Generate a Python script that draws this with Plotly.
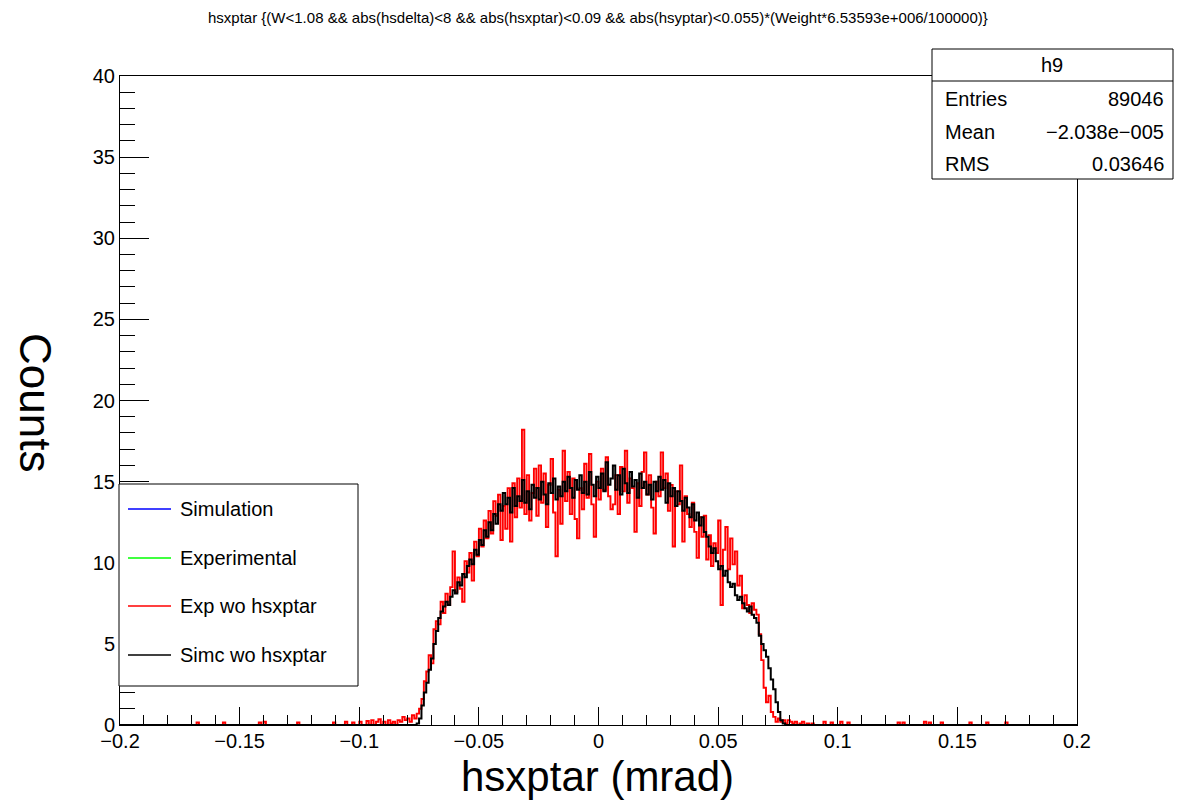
import numpy as np
import plotly.graph_objects as go

# ---------------- data ----------------
BIN_WIDTH = 0.001
X_MIN, X_MAX = -0.2, 0.2
CORE_START = -0.090  # lower edge of first bin in the core lists

# simulation (black) counts per 0.001 bin, lower edges from -0.090
simc_core = [
    0, 0, 0, 0, 0, 0, 0, 0, 0, 0,                      # -0.090 .. -0.081
    0, 0, 0, 0, 0.1, 0.4, 1.2, 2.0, 2.6, 3.4,          # -0.080 .. -0.071
    4.1, 5.0, 5.8, 6.6, 7.0, 7.3, 7.6, 7.4, 7.9, 8.3,  # -0.070 .. -0.061
    8.1, 8.8, 8.6, 9.3, 9.1, 9.8, 10.2, 9.9, 10.8, 10.5,  # -0.060 .. -0.051
    11.4, 11.1, 12.0, 11.6, 12.5, 12.0, 13.0, 12.4, 13.6, 13.2,  # -0.050 .. -0.041
    14.3, 13.6, 14.0, 13.1, 14.6, 13.5, 14.1, 13.8, 15.1, 13.7,  # -0.040 .. -0.031
    14.4, 13.3, 14.8, 14.0, 14.6, 13.9, 15.0, 14.2, 13.6, 14.9,  # -0.030 .. -0.021
    14.3, 15.2, 13.9, 14.7, 14.1, 15.0, 14.4, 15.3, 14.6, 14.0,  # -0.020 .. -0.011
    15.1, 14.5, 15.4, 14.3, 15.0, 14.2, 15.6, 14.8, 14.1, 15.3,  # -0.010 .. -0.001
    14.6, 15.5, 14.4, 16.2, 14.8, 15.2, 16.0, 14.5, 15.4, 14.2,  # 0.000 .. 0.009
    15.8, 14.9, 14.3, 15.6, 14.7, 15.1, 14.0, 15.5, 14.6, 15.0,  # 0.010 .. 0.019
    14.2, 14.8, 13.9, 15.0, 14.4, 15.3, 14.5, 15.1, 13.7, 14.9,  # 0.020 .. 0.029
    14.1, 14.6, 13.5, 14.4, 13.8, 13.2, 14.0, 13.4, 12.8, 13.6,  # 0.030 .. 0.039
    12.6, 13.1, 12.3, 12.8, 11.9, 11.6, 11.0, 10.6, 10.9, 10.1,  # 0.040 .. 0.049
    9.6, 9.8, 9.2, 9.5, 8.8, 8.5, 8.7, 8.0, 7.7, 7.9,  # 0.050 .. 0.059
    7.5, 7.2, 7.0, 7.3, 6.8, 6.6, 6.3, 5.5, 5.0, 4.6,  # 0.060 .. 0.069
    4.2, 3.5, 2.8, 2.2, 1.4, 0.8, 0.3, 0.1, 0, 0,      # 0.070 .. 0.079
    0, 0, 0, 0, 0, 0, 0, 0, 0, 0,                      # 0.080 .. 0.089
]

# experimental (red) counts per 0.001 bin, lower edges from -0.090
exp_core = [
    0.2, 0, 0.3, 0.1, 0.2, 0, 0.3, 0.2, 0.5, 0.3,          # -0.090 .. -0.081
    0.4, 0.2, 0.6, 0.4, 0.7, 1.0, 1.6, 2.7, 3.3, 4.3,      # -0.080 .. -0.071
    3.8, 5.9, 6.4, 6.2, 7.6, 6.9, 8.1, 7.4, 8.5, 10.7,     # -0.070 .. -0.061
    8.2, 9.1, 8.4, 7.6, 10.1, 9.4, 10.6, 8.9, 11.3, 10.4,  # -0.060 .. -0.051
    12.1, 11.0, 12.6, 11.5, 13.2, 11.8, 13.8, 12.9, 14.2, 11.4,  # -0.050 .. -0.041
    13.5, 12.1, 14.6, 11.3, 14.9, 12.8, 15.2, 13.4, 18.2, 13.0,  # -0.040 .. -0.031
    15.4, 12.6, 14.3, 15.8, 12.9, 16.0, 13.7, 15.5, 12.2, 14.8,  # -0.030 .. -0.021
    16.4, 13.1, 10.4, 14.5, 12.4, 16.9, 13.8, 15.6, 13.0, 15.2,  # -0.020 .. -0.011
    12.7, 11.5, 14.6, 13.3, 16.1, 14.0, 16.7, 13.6, 11.6, 15.0,  # -0.010 .. -0.001
    13.9, 15.8, 14.5, 16.5, 14.1, 13.3, 13.6, 15.4, 13.0, 15.9,  # 0.000 .. 0.009
    14.4, 16.9, 13.7, 15.2, 14.6, 11.9, 14.9, 13.5, 15.6, 16.8,  # 0.010 .. 0.019
    14.2, 15.4, 13.4, 11.8, 15.0, 14.1, 16.8, 14.6, 15.5, 13.2,  # 0.020 .. 0.029
    14.8, 11.0, 14.4, 13.6, 16.0, 11.3, 14.1, 13.0, 12.2, 13.7,  # 0.030 .. 0.039
    11.9, 10.3, 12.8, 11.6, 12.9, 10.2, 11.7, 9.8, 11.2, 10.6,   # 0.040 .. 0.049
    12.6, 7.4, 10.8, 12.2, 9.6, 11.5, 9.9, 10.7, 8.6, 9.2,       # 0.050 .. 0.059
    7.2, 8.0, 7.4, 6.9, 7.5, 7.1, 6.8, 5.6, 4.0, 2.3,            # 0.060 .. 0.069
    1.4, 1.8, 0.8, 0.5, 0.2, 0.4, 0.2, 0.3, 0.1, 0.3,            # 0.070 .. 0.079
    0.2, 0.1, 0.2, 0, 0.1, 0.2, 0, 0.1, 0, 0.1,                  # 0.080 .. 0.089
]

# sparse experimental entries outside the core (bin lower edges, counts)
exp_tail_x = [-0.168, -0.157, -0.142, -0.140, -0.126, -0.111, -0.106, -0.103,
              -0.100, -0.097, -0.095, -0.093, -0.092,
              0.094, 0.097, 0.101, 0.104, 0.125, 0.127, 0.136, 0.138, 0.143,
              0.155, 0.162, 0.170]
exp_tail_y = [0.15, 0.15, 0.15, 0.2, 0.15, 0.15, 0.2, 0.15,
              0.2, 0.25, 0.3, 0.2, 0.35,
              0.2, 0.15, 0.2, 0.15, 0.15, 0.15, 0.2, 0.15, 0.15,
              0.15, 0.15, 0.15]

x_tick_vals = [-0.2, -0.15, -0.1, -0.05, 0, 0.05, 0.1, 0.15, 0.2]
y_tick_vals = [0, 5, 10, 15, 20, 25, 30, 35, 40]

legend_labels = ["Simulation", "Experimental", "Exp wo hsxptar", "Simc wo hsxptar"]
legend_colors = ["#0000ff", "#00ff00", "#ff0000", "#000000"]

stats_name = "h9"
stats_rows = [("Entries", "89046"), ("Mean", "\u22122.038e\u2212005"), ("RMS", "0.03646")]

title_text = ("hsxptar {(W<1.08 && abs(hsdelta)<8 && abs(hsxptar)<0.09 && "
              "abs(hsyptar)<0.055)*(Weight*6.53593e+006/100000)}")

# ---------------- build histograms ----------------
n_bins = int(round((X_MAX - X_MIN) / BIN_WIDTH))
edges = np.round(X_MIN + BIN_WIDTH * np.arange(n_bins + 1), 6)
simc = np.zeros(n_bins)
exp = np.zeros(n_bins)
i0 = int(round((CORE_START - X_MIN) / BIN_WIDTH))
simc[i0:i0 + len(simc_core)] = simc_core
exp[i0:i0 + len(exp_core)] = exp_core
for xv, yv in zip(exp_tail_x, exp_tail_y):
    exp[int(round((xv - X_MIN) / BIN_WIDTH))] = yv


def step_xy(counts):
    xs = list(edges[:-1]) + [edges[-1]]
    ys = list(counts) + [counts[-1]]
    return xs, ys


FONT = "Liberation Sans, Arial, Helvetica, sans-serif"

fig = go.Figure()
xr, yr = step_xy(exp)
fig.add_trace(go.Scatter(x=xr, y=yr, mode="lines", line=dict(color="#ff0000", width=1.9, shape="hv"),
                         name="Exp wo hsxptar", showlegend=False, hoverinfo="skip"))
xb, yb = step_xy(simc)
fig.add_trace(go.Scatter(x=xb, y=yb, mode="lines", line=dict(color="#000000", width=2, shape="hv"),
                         name="Simc wo hsxptar", showlegend=False, hoverinfo="skip"))

# ---------------- layout ----------------
L, R, T, B = 120, 1077, 76, 725
W, H = 1190, 800
PW, PH = R - L, B - T


def px(xp):
    return (xp - L) / PW


def py(yp):
    return (B - yp) / PH


shapes = []
annotations = []

# legend box
shapes.append(dict(type="rect", xref="paper", yref="paper", x0=px(119), x1=px(358), y0=py(686), y1=py(484),
                   line=dict(color="black", width=1), fillcolor="white", layer="above"))
leg_y = [509, 558, 606, 655]
for lab, col, yy in zip(legend_labels, legend_colors, leg_y):
    shapes.append(dict(type="line", xref="paper", yref="paper", x0=px(128), x1=px(171), y0=py(yy), y1=py(yy),
                       line=dict(color=col, width=1.6), layer="above"))
    annotations.append(dict(xref="paper", yref="paper", x=px(178), y=py(yy), text=lab, showarrow=False,
                            xanchor="left", yanchor="middle", font=dict(family=FONT, size=20, color="black")))

# stats box
shapes.append(dict(type="rect", xref="paper", yref="paper", x0=px(932), x1=px(1173), y0=py(179), y1=py(49),
                   line=dict(color="black", width=1), fillcolor="white", layer="above"))
shapes.append(dict(type="line", xref="paper", yref="paper", x0=px(932), x1=px(1173), y0=py(81), y1=py(81),
                   line=dict(color="black", width=1), layer="above"))
annotations.append(dict(xref="paper", yref="paper", x=px(1052), y=py(65), text=stats_name, showarrow=False,
                        xanchor="center", yanchor="middle", font=dict(family=FONT, size=20, color="black")))
for (k, v), yy in zip(stats_rows, [99, 132, 164]):
    annotations.append(dict(xref="paper", yref="paper", x=px(943), y=py(yy), text=k, showarrow=False,
                            xanchor="left", yanchor="middle", font=dict(family=FONT, size=20, color="black")))
    annotations.append(dict(xref="paper", yref="paper", x=px(1166), y=py(yy), text=v, showarrow=False,
                            xanchor="right", yanchor="middle", font=dict(family=FONT, size=20, color="black")))

# title
annotations.append(dict(xref="paper", yref="paper", x=px(598), y=py(18), text=title_text.replace("<", "&lt;"),
                        showarrow=False, xanchor="center", yanchor="middle",
                        font=dict(family=FONT, size=15, color="black")))
# axis titles
annotations.append(dict(xref="paper", yref="paper", x=px(597), y=py(801), text="hsxptar (mrad)",
                        showarrow=False, xanchor="center", yanchor="bottom", borderpad=0,
                        font=dict(family=FONT, size=42, color="black")))
annotations.append(dict(xref="paper", yref="paper", x=px(36), y=py(402), text="Counts", textangle=90,
                        showarrow=False, xanchor="center", yanchor="middle",
                        font=dict(family=FONT, size=44, color="black")))

fig.update_layout(
    width=W, height=H,
    margin=dict(l=L, r=W - R, t=T, b=H - B),
    paper_bgcolor="white", plot_bgcolor="white",
    showlegend=False,
    shapes=shapes, annotations=annotations,
    font=dict(family=FONT, color="black"),
)
fig.update_xaxes(range=[X_MIN, X_MAX], tickvals=x_tick_vals, ticks="inside", ticklen=18, tickwidth=1,
                 tickcolor="black", showgrid=False, zeroline=False, showline=True, linecolor="black",
                 linewidth=1, mirror=True, tickfont=dict(family=FONT, size=20, color="black"),
                 ticklabelstandoff=-2,
                 minor=dict(dtick=0.01, ticks="inside", ticklen=10, tickcolor="black", tickwidth=1, showgrid=False))
fig.update_yaxes(range=[0, 40], tickvals=y_tick_vals, ticks="inside", ticklen=29, tickwidth=1,
                 tickcolor="black", showgrid=False, zeroline=False, showline=True, linecolor="black",
                 linewidth=1, mirror=True, tickfont=dict(family=FONT, size=20, color="black"),
                 minor=dict(dtick=1, ticks="inside", ticklen=15, tickcolor="black", tickwidth=1, showgrid=False))

fig.write_html("out.html")
